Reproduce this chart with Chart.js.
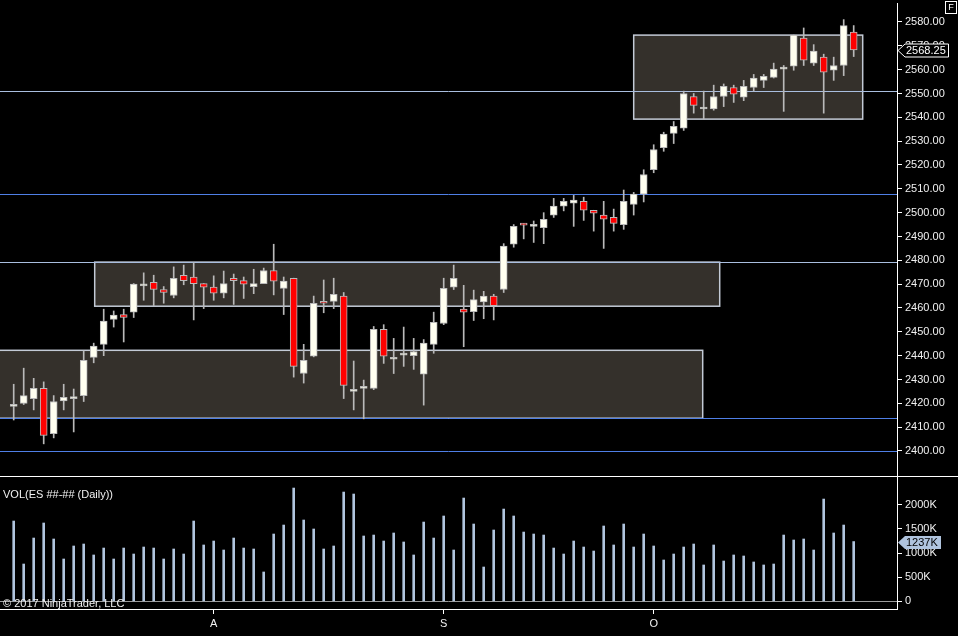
<!DOCTYPE html>
<html>
<head>
<meta charset="utf-8">
<script src="https://cdn.jsdelivr.net/npm/chart.js@4.4.1/dist/chart.umd.min.js"></script>
<style>
  html, body { margin: 0; padding: 0; background: #000; }
  #wrap { position: relative; width: 958px; height: 636px; overflow: hidden; background: #000;
          font-family: "Liberation Sans", Arial, sans-serif; color: #f0f0f0; font-size: 11px; }
  #pricePane { position: absolute; left: 0; top: 0; width: 958px; height: 476px; }
  #volPane { position: absolute; left: 0; top: 477px; width: 958px; height: 159px; }
  #divider { position: absolute; left: 0; top: 476px; width: 958px; height: 1px; background: #fff; }
  .lbl { position: absolute; white-space: nowrap; z-index: 2; }
  #fbox { position: absolute; left: 945px; top: 1px; width: 10px; height: 11px; border: 1px solid #fff;
          font-size: 9px; line-height: 11px; text-align: center; color: #fff; }
</style>
</head>
<body>
<div id="wrap">
  <div id="pricePane"><canvas id="priceChart"></canvas></div>
  <div id="divider"></div>
  <div id="volPane"><canvas id="volChart"></canvas></div>
  <div class="lbl" style="left:3px; top:488px;">VOL(ES ##-## (Daily))</div>
  <div class="lbl" style="left:3px; top:597px;">© 2017 NinjaTrader, LLC</div>
  <div id="fbox">F</div>
</div>
<script>
// daily ES candles, Jul 3 .. end of Oct 2017
const opens = [2418.75, 2420, 2422, 2426.25, 2407.25, 2421, 2422, 2423.25, 2439.25, 2444.75,
  2455.25, 2457.25, 2458.25, 2469.25, 2470.75, 2467.75, 2465.25, 2473.75, 2473, 2470.25,
  2468.75, 2466.25, 2472.5, 2471.5, 2469, 2470.25, 2475.75, 2468.25, 2472.5, 2432.5,
  2439.75, 2462.75, 2462.75, 2465, 2425, 2426.25, 2426.25, 2451, 2438.5, 2440.25,
  2440, 2432.25, 2444.75, 2453.5, 2468.75, 2459.5, 2458.5, 2462.5, 2465, 2467.75,
  2486.75, 2495.5, 2494.25, 2493.75, 2499, 2502.75, 2504, 2504.75, 2501, 2499,
  2498, 2495, 2503.5, 2507.75, 2518, 2527.25, 2533.25, 2535.5, 2548.75, 2543.5,
  2543.5, 2548.75, 2552.5, 2548.5, 2552.5, 2555.5, 2556.75, 2560.25, 2561.5, 2573.25,
  2562.75, 2565.25, 2559.75, 2561.75, 2575.75];
const highs = [2428, 2434.75, 2430.5, 2429, 2423.25, 2428, 2426, 2442, 2445.25, 2459.5,
  2458.75, 2459.5, 2470.25, 2474.75, 2473.75, 2469, 2477.25, 2478, 2479, 2470.25,
  2473.5, 2475.5, 2474.25, 2473, 2476.25, 2476.75, 2486.75, 2473, 2472.5, 2444.75,
  2465, 2471.75, 2472.5, 2466.5, 2437.75, 2429.75, 2452.25, 2453, 2447.25, 2452,
  2447.25, 2446.75, 2458.25, 2472.5, 2478, 2469.5, 2467.5, 2467, 2465.75, 2487,
  2495, 2495.5, 2496.5, 2500, 2506, 2506, 2507.25, 2506.5, 2501, 2504.75,
  2501.5, 2509.5, 2508.5, 2518, 2528.5, 2533.75, 2538.25, 2551, 2550, 2551,
  2553.5, 2554, 2553.5, 2555.5, 2558, 2558, 2562.75, 2561.75, 2574.5, 2577.5,
  2570.5, 2566.5, 2565.25, 2581, 2578.5];
const lows = [2413, 2419.5, 2417.25, 2403, 2405.5, 2417.25, 2408, 2420.75, 2437, 2440,
  2452, 2445.75, 2456, 2463.25, 2461, 2462, 2464.25, 2469.75, 2455, 2459.75,
  2463.25, 2464.25, 2461.5, 2464, 2466, 2470.25, 2465.5, 2457.25, 2431, 2428.5,
  2439.5, 2458, 2459.75, 2422, 2417.25, 2413.5, 2425.75, 2436.75, 2432.5, 2435.5,
  2434.25, 2419.25, 2441, 2453, 2467.75, 2443.75, 2454.75, 2455.5, 2455, 2466.5,
  2485.5, 2489, 2487.5, 2487, 2498, 2500.75, 2494.25, 2496.75, 2492.25, 2485,
  2492.25, 2493, 2499, 2504.5, 2516.75, 2525.75, 2529, 2534.5, 2541.75, 2539.25,
  2543, 2544.5, 2546.25, 2547, 2551, 2552.5, 2556.5, 2542.5, 2559.75, 2561.75,
  2561.75, 2541.75, 2555.5, 2557.5, 2565.5];
const closes = [2419, 2423.25, 2426.25, 2406.5, 2420.75, 2422.5, 2422.25, 2438, 2444, 2454.5,
  2457, 2456, 2470, 2469.5, 2467.75, 2466.5, 2472.5, 2471.5, 2470.25, 2468.75,
  2466.25, 2470.25, 2471.5, 2470, 2470.25, 2475.75, 2471.25, 2471.25, 2435.5, 2438,
  2462, 2462, 2465.75, 2427.5, 2425.25, 2426.75, 2451, 2439.75, 2438.75, 2440.5,
  2441.75, 2445.25, 2454, 2468.25, 2472.5, 2458.25, 2463.5, 2465, 2461, 2486,
  2494.25, 2494.75, 2494.5, 2497.25, 2502.75, 2504.75, 2505.25, 2501, 2499.75, 2497.25,
  2495.5, 2504.75, 2507.75, 2516, 2526.5, 2533, 2536.25, 2550, 2545, 2543.75,
  2548.75, 2553, 2549.75, 2553, 2556.5, 2557.25, 2560.25, 2560.5, 2574.5, 2564,
  2567.75, 2559, 2561.75, 2578.5, 2568.25];
// volume in thousands of contracts
const volumes = [1662, 772, 1310, 1621, 1290, 876, 1145, 1186, 959, 1103,
  876, 1103, 979, 1124, 1103, 876, 1083, 979, 1662, 1166,
  1248, 1062, 1310, 1103, 1083, 607, 1393, 1579, 2345, 1683,
  1497, 1083, 1145, 2262, 2221, 1352, 1372, 1248, 1414, 1228,
  959, 1641, 1310, 1766, 1062, 2138, 1600, 710, 1476, 1910,
  1766, 1434, 1393, 1372, 1103, 979, 1248, 1124, 1041, 1559,
  1166, 1600, 1124, 1393, 1145, 855, 979, 1124, 1186, 752,
  1166, 834, 959, 938, 814, 752, 772, 1372, 1269, 1290,
  1062, 2117, 1414, 1579, 1237];

// month ticks on the time axis (bar index of first session of the month)
const monthTickPos = [20, 43, 64];
const monthTickLabels = ['A', 'S', 'O'];
const priceTicks = [2400, 2410, 2420, 2430, 2440, 2450, 2460, 2470, 2480, 2490,
  2500, 2510, 2520, 2530, 2540, 2550, 2560, 2570, 2580];
const volTicks = [0, 500, 1000, 1500, 2000];

// drawn objects: boxes (bar index / price) and horizontal lines
const zoneStart = [-3, 8.1, 62];
const zoneEnd = [68.9, 70.6, 84.9];
const zoneTop = [2442.25, 2479.25, 2574.5];
const zoneBottom = [2413.75, 2460.75, 2539.25];
const levels = [2551, 2507.75, 2479.5, 2413.75, 2400];
const levelColors = ['#a9bedf', '#4f7fe6', '#a9bedf', '#4f7fe6', '#4f7fe6'];

const FONT = { family: '"Liberation Sans", Arial, sans-serif', size: 11 };
const X_MIN = -1.37, X_MAX = 88.33;

const upColor = '#fffff0';
const downColor = '#ff0000';
const edgeColor = '#b9b9b9';

const idx = opens.map((_, i) => i);
const bodyData = idx.map(i => ({ x: i, y: [Math.min(opens[i], closes[i]), Math.max(opens[i], closes[i])] }));
const wickData = idx.map(i => ({ x: i, y: [lows[i], highs[i]] }));
const bodyColors = idx.map(i => closes[i] >= opens[i] ? upColor : downColor);

// keep the plot area fixed: no label overhang padding, fixed axis width
function fixYAxis(scale) {
  scale.width = 61;
  scale.paddingTop = 0;
  scale.paddingBottom = 0;
}
function fixXAxis(scale) {
  scale.height = 27;
  scale.paddingLeft = 0;
  scale.paddingRight = 0;
}

const zonesPlugin = {
  id: 'zones',
  beforeDatasetsDraw(chart) {
    const { ctx, chartArea, scales } = chart;
    const x = scales.x, y = scales.y;
    ctx.save();
    ctx.beginPath();
    ctx.rect(chartArea.left, chartArea.top, chartArea.right - chartArea.left, chartArea.bottom - chartArea.top);
    ctx.clip();
    for (let i = 0; i < zoneStart.length; i++) {
      const x0 = x.getPixelForValue(zoneStart[i]);
      const x1 = x.getPixelForValue(zoneEnd[i]);
      const y0 = y.getPixelForValue(zoneTop[i]);
      const y1 = y.getPixelForValue(zoneBottom[i]);
      ctx.fillStyle = '#34302b';
      ctx.fillRect(x0, y0, x1 - x0, y1 - y0);
      ctx.strokeStyle = '#c3cad6';
      ctx.lineWidth = 1.5;
      ctx.strokeRect(x0, y0, x1 - x0, y1 - y0);
    }
    levels.forEach((lv, i) => {
      const yy = Math.round(y.getPixelForValue(lv)) + 0.5;
      ctx.strokeStyle = levelColors[i];
      ctx.lineWidth = 1;
      ctx.beginPath();
      ctx.moveTo(chartArea.left, yy);
      ctx.lineTo(chartArea.right, yy);
      ctx.stroke();
    });
    ctx.restore();
  }
};

function drawMarker(chart, value, text, fill, stroke, textColor, boxRight) {
  const { ctx, chartArea, scales } = chart;
  const yy = Math.round(scales.y.getPixelForValue(value)) + 0.5;
  const tip = chartArea.right + 1;
  ctx.save();
  ctx.beginPath();
  ctx.moveTo(tip, yy);
  ctx.lineTo(tip + 7, yy - 6.5);
  ctx.lineTo(boxRight, yy - 6.5);
  ctx.lineTo(boxRight, yy + 6.5);
  ctx.lineTo(tip + 7, yy + 6.5);
  ctx.closePath();
  ctx.fillStyle = fill;
  ctx.fill();
  if (stroke) { ctx.strokeStyle = stroke; ctx.lineWidth = 1; ctx.stroke(); }
  ctx.fillStyle = textColor;
  ctx.font = FONT.size + 'px ' + FONT.family;
  ctx.textBaseline = 'middle';
  ctx.fillText(text, tip + 8, yy + 0.5);
  ctx.restore();
}

const priceMarker = {
  id: 'priceMarker',
  afterDraw(chart) {
    const last = closes[closes.length - 1];
    drawMarker(chart, last, last.toFixed(2), '#000', '#ffffff', '#ffffff', 948.5);
  }
};

const volMarker = {
  id: 'volMarker',
  afterDraw(chart) {
    const last = volumes[volumes.length - 1];
    drawMarker(chart, last, last + 'K', '#b0c4de', null, '#000', 941);
  }
};

new Chart(document.getElementById('priceChart'), {
  type: 'bar',
  data: {
    datasets: [
      {
        label: 'body',
        data: bodyData,
        backgroundColor: bodyColors,
        borderColor: edgeColor,
        borderWidth: 1,
        borderSkipped: false,
        barThickness: 7,
        minBarLength: 2,
        grouped: false
      },
      {
        label: 'wick',
        data: wickData,
        backgroundColor: edgeColor,
        borderWidth: 0,
        barThickness: 1,
        grouped: false
      }
    ]
  },
  options: {
    responsive: true,
    maintainAspectRatio: false,
    animation: false,
    layout: { padding: { top: 3, left: 0, right: 0, bottom: 0 } },
    plugins: { legend: { display: false }, tooltip: { enabled: false } },
    scales: {
      x: { type: 'linear', display: false, min: X_MIN, max: X_MAX, offset: false },
      y: {
        position: 'right',
        min: 2389.51,
        max: 2587.97,
        afterFit: fixYAxis,
        afterBuildTicks: scale => { scale.ticks = priceTicks.map(v => ({ value: v })); },
        grid: { drawOnChartArea: false, tickColor: '#ffffff', tickLength: 5 },
        border: { color: '#ffffff', width: 1 },
        ticks: { color: '#f0f0f0', font: FONT, padding: 3, callback: v => Number(v).toFixed(2) }
      }
    }
  },
  plugins: [zonesPlugin, priceMarker]
});

new Chart(document.getElementById('volChart'), {
  type: 'bar',
  data: {
    datasets: [{
      label: 'VOL',
      data: idx.map(i => ({ x: i, y: volumes[i] })),
      backgroundColor: '#b0c4de',
      borderWidth: 0,
      barThickness: 2
    }]
  },
  options: {
    responsive: true,
    maintainAspectRatio: false,
    animation: false,
    layout: { padding: 0 },
    plugins: { legend: { display: false }, tooltip: { enabled: false } },
    scales: {
      x: {
        type: 'linear',
        min: X_MIN,
        max: X_MAX,
        offset: false,
        afterFit: fixXAxis,
        afterBuildTicks: scale => { scale.ticks = monthTickPos.map(v => ({ value: v })); },
        grid: { drawOnChartArea: false, offset: false, tickColor: '#ffffff', tickLength: 5 },
        border: { color: '#ffffff', width: 1 },
        ticks: {
          color: '#f0f0f0', font: FONT, padding: 3, maxRotation: 0, autoSkip: false,
          callback: v => monthTickLabels[monthTickPos.indexOf(v)]
        }
      },
      y: {
        position: 'right',
        min: -159.4,
        max: 2573.5,
        afterFit: fixYAxis,
        afterBuildTicks: scale => { scale.ticks = volTicks.map(v => ({ value: v })); },
        grid: {
          color: c => (c.tick && c.tick.value === 0) ? '#9a9a9a' : 'rgba(0,0,0,0)',
          tickColor: '#ffffff',
          tickLength: 5
        },
        border: { color: '#ffffff', width: 1 },
        ticks: { color: '#f0f0f0', font: FONT, padding: 3, callback: v => v === 0 ? '0' : v + 'K' }
      }
    }
  },
  plugins: [volMarker]
});
</script>
</body>
</html>
